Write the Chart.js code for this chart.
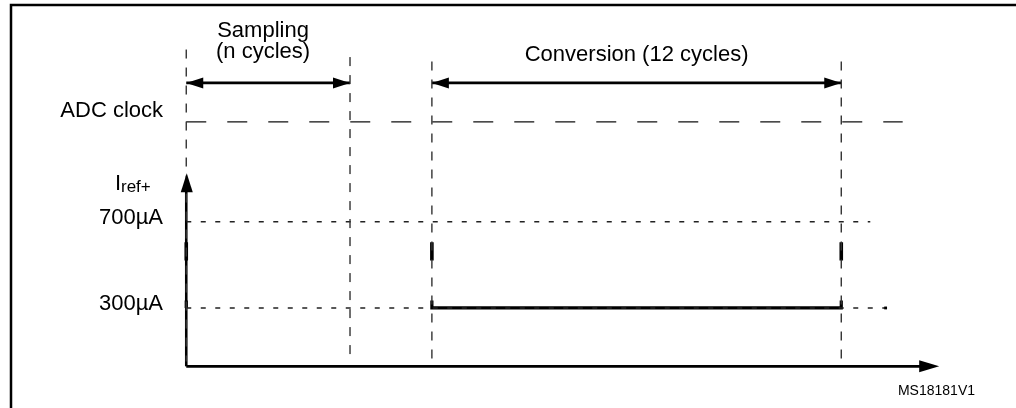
<!DOCTYPE html>
<html>
<head>
<meta charset="utf-8">
<script src="https://cdn.jsdelivr.net/npm/chart.js@4.4.1/dist/chart.umd.min.js"></script>
<style>
  html, body { margin: 0; padding: 0; background: #fff; }
  #wrap { width: 1016px; height: 408px; position: relative; }
</style>
</head>
<body>
<div id="wrap"><canvas id="timing"></canvas></div>
<script>
    // time is counted in ADC clock cycles from the start of sampling
    const markerNames = ["sampling start", "sampling end", "conversion start", "conversion end"];
    const markerTimes = [0, 4.8, 7.2, 19.2];
    const markerTopLevels = [1500, 1465, 1445, 1445];

    const phaseLabels = [["Sampling", "(n cycles)"], ["Conversion (12 cycles)"]];
    const phaseStart = [0, 7.2];
    const phaseEnd = [4.8, 19.2];

    const currentTickValues = [700, 300];
    const currentTickLabels = ["700µA", "300µA"];
    const currentRefEnd = [20.05, 20.5];

    // Iref+ trace, null breaks the line
    const traceTimes = [0, 0, null, 7.2, 7.2, 19.2, 19.2];
    const traceValues = [300, 335, null, 335, 300, 300, 335];
    const spikeTimes = [0, 0, null, 7.2, 7.2, null, 19.2, 19.2];
    const spikeValues = [520, 605, null, 520, 605, null, 520, 605];

    // vertical levels used for the rows of the diagram
    const levels = { arrows: 1345, clock: 1164, axisTop: 925, base: 29, guideBottom: 52 };
    const clockEnd = 21.0;
    const timeAxisEnd = 22.07;

    const font = "'Liberation Sans', Arial, Helvetica, sans-serif";

    function pts(xs, ys) {
        return xs.map(function (x, i) {
            return { x: x === null ? NaN : x, y: ys[i] };
        });
    }

    const datasets = [];

    // dashed guides at the phase boundaries
    markerTimes.forEach(function (t, i) {
        datasets.push({
            label: markerNames[i],
            data: [{ x: t, y: markerTopLevels[i] }, { x: t, y: levels.guideBottom }],
            borderColor: "#333",
            borderWidth: 1.4,
            borderDash: [9, 9],
        });
    });

    datasets.push({
        label: "ADC clock",
        data: [{ x: 0, y: levels.clock }, { x: clockEnd, y: levels.clock }],
        borderColor: "#111",
        borderWidth: 1.4,
        borderDash: [20, 21],
    });

    currentTickValues.forEach(function (v, i) {
        datasets.push({
            label: currentTickLabels[i],
            data: [{ x: 0, y: v }, { x: currentRefEnd[i], y: v }],
            borderColor: "#222",
            borderWidth: 1.4,
            borderDash: [5, 9.5],
            pointRadius: [0, i === 1 ? 2 : 0],
            pointStyle: "rect",
            pointBackgroundColor: "#000",
            pointBorderWidth: 0,
        });
    });

    phaseStart.forEach(function (t, i) {
        datasets.push({
            label: phaseLabels[i].join(" "),
            data: [{ x: t, y: levels.arrows }, { x: phaseEnd[i], y: levels.arrows }],
            borderColor: "#000",
            borderWidth: 2.6,
        });
    });

    datasets.push({
        label: "time axis",
        data: [{ x: 0, y: levels.base }, { x: timeAxisEnd - 0.3, y: levels.base }],
        borderColor: "#000",
        borderWidth: 2.6,
    });
    datasets.push({
        label: "current axis",
        data: [{ x: 0, y: levels.base }, { x: 0, y: levels.axisTop - 40 }],
        borderColor: "#000",
        borderWidth: 2.6,
    });

    datasets.push({
        label: "Iref+",
        data: pts(traceTimes, traceValues),
        borderColor: "#000",
        borderWidth: 3.2,
        spanGaps: false,
    });
    datasets.push({
        label: "Iref+ spikes",
        data: pts(spikeTimes, spikeValues),
        borderColor: "#000",
        borderWidth: 3.6,
        spanGaps: false,
    });

    function arrowHead(ctx, x, y, dx, dy, len, half) {
        ctx.beginPath();
        ctx.moveTo(x, y);
        ctx.lineTo(x - dx * len - dy * half, y - dy * len + dx * half);
        ctx.lineTo(x - dx * len + dy * half, y - dy * len - dx * half);
        ctx.closePath();
        ctx.fill();
    }

    const diagram = {
        id: "diagram",
        beforeDraw: function (chart) {
            const ctx = chart.ctx;
            ctx.save();
            ctx.fillStyle = "#fff";
            ctx.fillRect(0, 0, chart.width, chart.height);
            ctx.strokeStyle = "#000";
            ctx.lineWidth = 2.5;
            ctx.beginPath();
            ctx.moveTo(11, chart.height + 2);
            ctx.lineTo(11, 5);
            ctx.lineTo(chart.width + 2, 5);
            ctx.stroke();
            ctx.restore();
        },
        afterDraw: function (chart) {
            const ctx = chart.ctx;
            const xs = chart.scales.x;
            const ys = chart.scales.y;
            const px = function (t) { return xs.getPixelForValue(t); };
            const py = function (v) { return ys.getPixelForValue(v); };
            ctx.save();
            ctx.fillStyle = "#000";

            // arrow heads
            phaseStart.forEach(function (t, i) {
                arrowHead(ctx, px(t), py(levels.arrows), -1, 0, 17, 5.5);
                arrowHead(ctx, px(phaseEnd[i]), py(levels.arrows), 1, 0, 17, 5.5);
            });
            arrowHead(ctx, px(0) + 0.5, py(levels.axisTop), 0, -1, 19, 6);
            arrowHead(ctx, px(timeAxisEnd), py(levels.base), 1, 0, 20, 6);

            // texts
            ctx.font = "22px " + font;
            ctx.textBaseline = "alphabetic";
            ctx.textAlign = "center";
            const sx = px(2.25);
            ctx.fillText(phaseLabels[0][0], sx, 37);
            ctx.fillText(phaseLabels[0][1], sx, 58);
            ctx.fillText(phaseLabels[1][0], px((phaseStart[1] + phaseEnd[1]) / 2), 61);

            ctx.textAlign = "right";
            ctx.fillText("ADC clock", 163, 117);
            currentTickValues.forEach(function (v, i) {
                ctx.fillText(currentTickLabels[i], 163, py(v) + 2.5);
            });

            ctx.textAlign = "left";
            ctx.fillText("I", 115, 190);
            ctx.font = "17px " + font;
            ctx.fillText("ref+", 121, 192);

            ctx.textAlign = "right";
            ctx.font = "14px " + font;
            ctx.fillText("MS18181V1", 975, 395);
            ctx.restore();
        },
    };

    new Chart(document.getElementById("timing"), {
        type: "line",
        data: { datasets: datasets },
        options: {
            animation: false,
            responsive: true,
            maintainAspectRatio: false,
            layout: { padding: 0 },
            elements: {
                line: { tension: 0, fill: false },
                point: { radius: 0, hoverRadius: 0 },
            },
            plugins: {
                legend: { display: false },
                tooltip: { enabled: false },
            },
            events: [],
            scales: {
                x: { type: "linear", display: false, min: -5.401, max: 24.263 },
                y: { type: "linear", display: false, min: -155.2, max: 1720.7 },
            },
        },
        plugins: [diagram],
    });
</script>
</body>
</html>
